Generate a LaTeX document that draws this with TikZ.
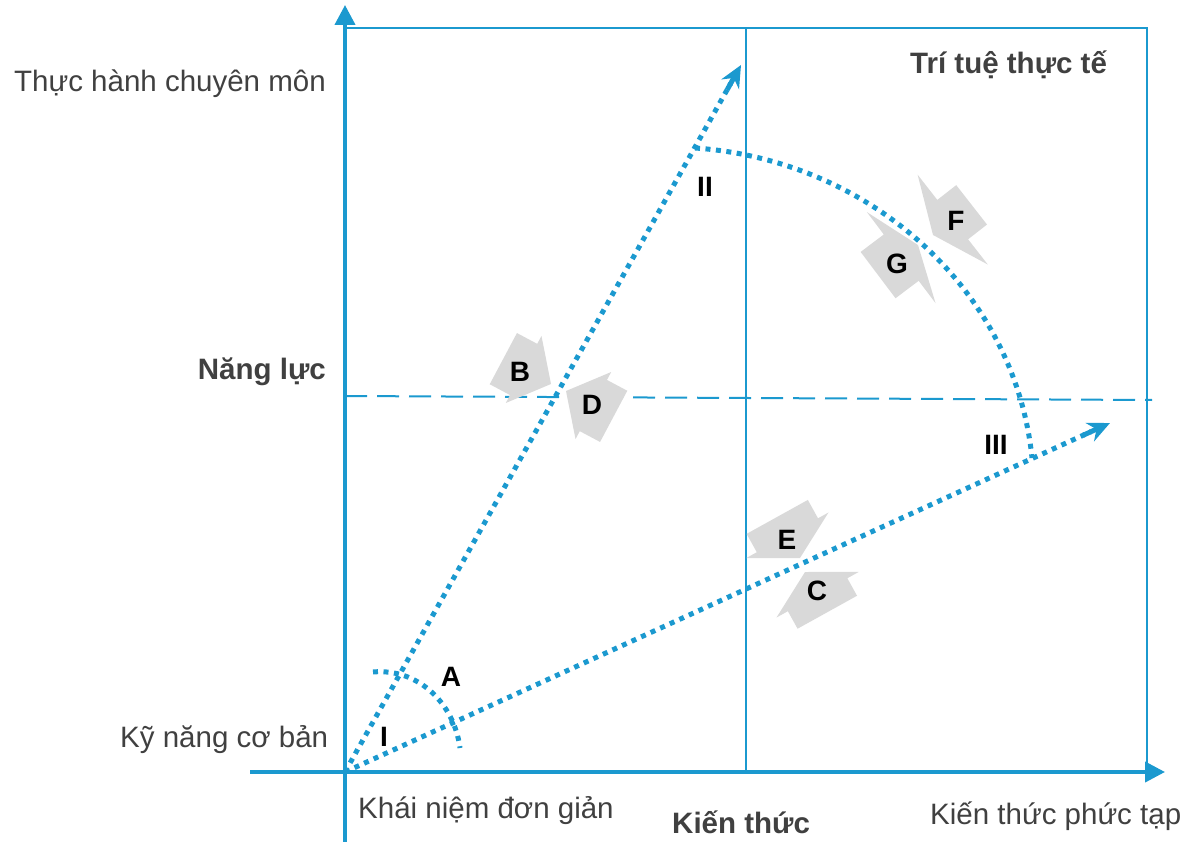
\documentclass[tikz,border=0pt]{standalone}
\usepackage{fontspec}
\setmainfont{Liberation Sans}
\usetikzlibrary{arrows.meta,calc}
\definecolor{axisblue}{RGB}{27,153,207}
\definecolor{arrowgray}{RGB}{217,217,217}
\definecolor{labelgray}{RGB}{64,64,64}

\begin{document}
\begin{tikzpicture}[x=1pt, y=-1pt,
    every node/.style={font=\fontsize{29.5}{34}\selectfont, text=labelgray, inner sep=0pt},
    heading/.style={font=\fontsize{29.5}{34}\selectfont\bfseries},
    letter/.style={font=\fontsize{28}{34}\selectfont\bfseries, text=black},
    axis/.style={axisblue, line width=4pt, -{Triangle[length=20pt,width=20pt]}},
    frame/.style={axisblue, line width=2.5pt},
    dotline/.style={axisblue, line width=5pt, line cap=butt, dash pattern=on 5pt off 5.5pt},
    dothead/.style={axisblue, line width=5pt, -{Stealth[length=22pt,width=20pt]}}]
  \useasboundingbox (0,0) rectangle (1186,842);

  % axes and frame
  \coordinate (O) at (345,772);
  \coordinate (ybot) at (345,842);
  \coordinate (ytop) at (345,5);
  \coordinate (xleft) at (250,772);
  \coordinate (xright) at (1165,772);
  \draw[frame] (345,28) -- (1147,28) -- (1147,772);
  \draw[axisblue, line width=1.5pt] (746,28) -- (746,772);
  \draw[axisblue, line width=2pt, dash pattern=on 22pt off 10pt] (345,396) -- (1152,400);
  \draw[axis] (ybot) -- (ytop);
  \draw[axis] (xleft) -- (xright);

  % dotted paths
  \coordinate (tipII) at (741,65);
  \coordinate (tipIII) at (1110,423);
  \draw[dotline, shorten >=21pt] (O) -- (tipII);
  \draw[dotline, shorten >=21pt] (O) -- (tipIII);
  \draw[dothead] ($(O)!0.965!(tipII)$) -- (tipII);
  \draw[dothead] ($(O)!0.965!(tipIII)$) -- (tipIII);
  \draw[dotline] (373,672) .. controls (418,668) and (454,703) .. (460,748);
  \draw[dotline] (695,148) .. controls (870,160) and (1015,290) .. (1032,458);

  % gray block arrows: tip x/tip y/angle/head length/head half/body length/body half
  \foreach \tx/\ty/\ang/\hl/\hw/\bl/\bw in {551/384/-28/31/38/23/29, 566/391/152/31/38/23/29,
      800/558/-61/26/47/21/35, 805/572/119/26/47/20/34, 918/245/37/21/57/29/29, 933/235/218/25/57/24/25}
    \fill[arrowgray, shift={(\tx,\ty)}, rotate=\ang] (0,0) -- (-\hl,\hw) -- (-\hl,\bw) -- ({-\hl-\bl},\bw)
      -- ({-\hl-\bl},-\bw) -- (-\hl,-\bw) -- (-\hl,-\hw) -- cycle;

  \foreach \n/\px/\py in {A/451/677, B/520/372, C/817/591, D/592/405, E/787/540, F/956/221, G/897/264,
      I/384/737, II/705/187, III/996/445}
    \node[letter] (lbl\n) at (\px,\py) {\n};

  % axis texts
  \node[anchor=base east] (practice) at (326,92) {Thực hành chuyên môn};
  \node[anchor=base east, heading] (competence) at (326,379) {Năng lực};
  \node[anchor=base west] (basic) at (120,747) {Kỹ năng cơ bản};
  \node[anchor=base west] (simple) at (358,818) {Khái niệm đơn giản};
  \node[anchor=base west, heading] (knowledge) at (672,833) {Kiến thức};
  \node[anchor=base west] (complex) at (930,824) {Kiến thức phức tạp};
  \node[anchor=base west, heading] (wisdom) at (910,74) {Trí tuệ thực tế};
\end{tikzpicture}
\end{document}
